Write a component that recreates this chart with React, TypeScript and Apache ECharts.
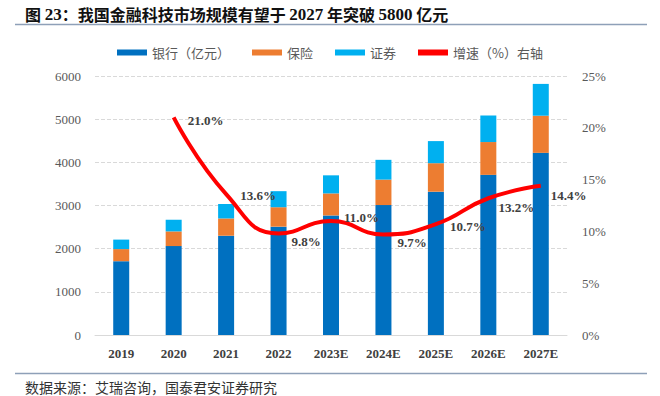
import React, { useEffect, useRef } from "react";
import * as echarts from "echarts";

const categories = ["2019", "2020", "2021", "2022", "2023E", "2024E", "2025E", "2026E", "2027E"];
const bankValues = [1710, 2060, 2300, 2510, 2770, 3010, 3320, 3710, 4220];
const insuranceValues = [280, 340, 400, 450, 510, 590, 660, 760, 860];
const securitiesValues = [220, 270, 335, 372, 419, 458, 512, 615, 737];
const growthValues: (number | null)[] = [null, 21.0, 13.6, 9.8, 11.0, 9.7, 10.7, 13.2, 14.4];
const leftTicks = [0, 6000, 1000];
const rightTicks = [0, 25, 5];
const labelOffsets: [number, number][] = [[0, 0], [14, 3], [14, 1], [13, 8], [13, -4], [14, 8], [14, 2], [10, 9], [10, 10]];

export default function App() {
  const ref = useRef<HTMLDivElement>(null);
  useEffect(() => {
    if (!ref.current) return;
    const chart = echarts.init(ref.current, null, { renderer: "svg" });
    const serif = "Liberation Serif, 'Times New Roman', serif";
    const cjk = "'Noto Sans CJK SC', sans-serif";
    chart.setOption({
      animation: false,
      backgroundColor: "#ffffff",
      legend: {
        top: 41,
        left: "center",
        icon: "rect",
        itemWidth: 30,
        itemHeight: 6,
        itemGap: 22,
        textStyle: { fontSize: 13, color: "#595959", fontFamily: cjk },
        data: ["银行（亿元）", "保险", "证券", "增速（%）右轴"],
      },
      grid: { left: 95, right: 93, top: 76, bottom: 61 },
      xAxis: {
        type: "category",
        data: categories,
        axisTick: { show: false },
        axisLine: { lineStyle: { color: "#d9d9d9" } },
        axisLabel: { margin: 12, fontSize: 13, fontWeight: "bold", color: "#404040", fontFamily: serif },
      },
      yAxis: [
        {
          type: "value",
          min: leftTicks[0],
          max: leftTicks[1],
          interval: leftTicks[2],
          axisLine: { show: false },
          axisTick: { show: false },
          splitLine: { lineStyle: { color: "#d9d9d9", type: "dashed" } },
          axisLabel: { margin: 14, fontSize: 13, color: "#595959", fontFamily: serif, formatter: (v: number) => String(v) },
        },
        {
          type: "value",
          min: rightTicks[0],
          max: rightTicks[1],
          interval: rightTicks[2],
          axisLine: { show: false },
          axisTick: { show: false },
          splitLine: { show: false },
          axisLabel: { margin: 15, fontSize: 13, color: "#595959", fontFamily: serif, formatter: "{value}%" },
        },
      ],
      series: [
        { name: "银行（亿元）", type: "bar", stack: "total", barWidth: 16, data: bankValues, itemStyle: { color: "#0070c0" } },
        { name: "保险", type: "bar", stack: "total", barWidth: 16, data: insuranceValues, itemStyle: { color: "#ed7d31" } },
        { name: "证券", type: "bar", stack: "total", barWidth: 16, data: securitiesValues, itemStyle: { color: "#00b0f0" } },
        {
          name: "增速（%）右轴",
          type: "line",
          yAxisIndex: 1,
          smooth: true,
          showSymbol: true,
          symbol: "circle",
          symbolSize: 0.1,
          lineStyle: { color: "#ff0000", width: 4 },
          itemStyle: { color: "#ff0000" },
          data: growthValues.map((v, i) =>
            v == null
              ? "-"
              : {
                  value: v,
                  label: {
                    show: true,
                    position: "right",
                    distance: 0,
                    offset: labelOffsets[i],
                    formatter: (p: any) => Number(p.value).toFixed(1) + "%",
                    fontSize: 13,
                    fontWeight: "bold",
                    color: "#404040",
                    fontFamily: serif,
                  },
                }
          ),
        },
      ],
      graphic: [
        {
          type: "text",
          x: 25,
          y: 14,
          style: {
            text: "{c|图 }{d|23}{c|：我国金融科技市场规模有望于 }{d|2027}{c| 年突破 }{d|5800}{c| 亿元}",
            textVerticalAlign: "middle",
            verticalAlign: "middle",
            rich: {
              c: { fontSize: 16, fontWeight: "bold", fontFamily: cjk, fill: "#111", color: "#111" },
              d: { fontSize: 17, fontWeight: "bold", fontFamily: serif, fill: "#111", color: "#111" },
            },
          },
        },
        { type: "line", shape: { x1: 15, y1: 24.5, x2: 647, y2: 24.5 }, style: { stroke: "#8ea0b8", lineWidth: 1.5 } },
        { type: "line", shape: { x1: 15, y1: 373.5, x2: 647, y2: 373.5 }, style: { stroke: "#8ea0b8", lineWidth: 1.5 } },
        {
          type: "text",
          x: 25,
          y: 380,
          style: {
            text: "数据来源：艾瑞咨询，国泰君安证券研究",
            fontSize: 14,
            fontFamily: cjk,
            fill: "#333",
          },
        },
      ],
    });
    return () => chart.dispose();
  }, []);
  return <div ref={ref} style={{ width: 660, height: 396, position: "absolute", left: 0, top: 0 }} />;
}
